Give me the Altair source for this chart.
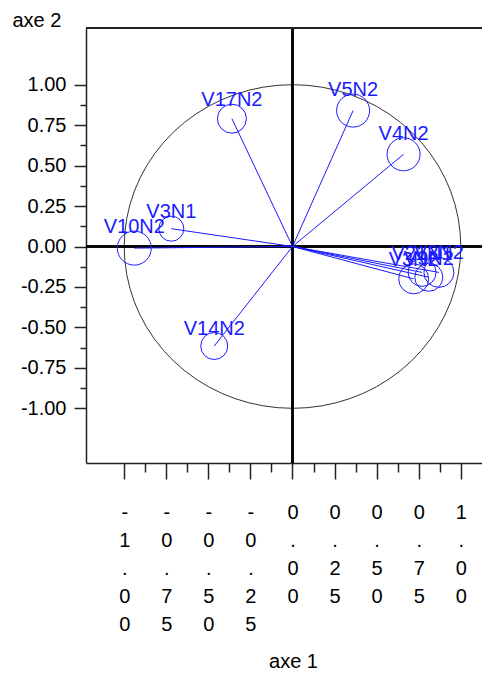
import altair as alt
import pandas as pd

# ---- data ----
names = ["V17N2", "V5N2", "V4N2", "V3N1", "V10N2", "V14N2", "V2N2", "V21N1", "V3N2", "V9N2"]
axe1 = [-0.36, 0.36, 0.66, -0.72, -0.94, -0.465, 0.87, 0.77, 0.72, 0.81]
axe2 = [0.79, 0.84, 0.57, 0.11, -0.01, -0.615, -0.16, -0.16, -0.20, -0.19]
diam = [29, 33, 33, 25, 34, 27, 30, 28, 30, 28]

tick_values = [-1.0, -0.875, -0.75, -0.625, -0.5, -0.375, -0.25, -0.125, 0.0,
               0.125, 0.25, 0.375, 0.5, 0.625, 0.75, 0.875, 1.0]

X_DOMAIN = [-1.227, 1.126]
Y_DOMAIN = [-1.338, 1.3504]

df = pd.DataFrame({"name": names, "x": axe1, "y": axe2, "d": diam})

FONT = "Liberation Sans"
BLUE = "#1a1aff"

is_minor = "abs(datum.value*4 - round(datum.value*4)) > 0.001"
num_txt = "(datum.value < 0 ? '-' : '') + format(abs(datum.value), '.2f')"

xscale = alt.Scale(domain=X_DOMAIN, nice=False, zero=False)
yscale = alt.Scale(domain=Y_DOMAIN, nice=False, zero=False)

x_axis = alt.Axis(
    values=tick_values,
    labelExpr=f"{is_minor} ? '' : split({num_txt}, '')",
    labelFont=FONT, labelFontSize=20, labelColor="#000",
    labelLineHeight=28, labelBaseline="top", labelPadding=23,
    labelOverlap=False, labelFlush=False,
    tickSize={"condition": {"test": is_minor, "value": 9}, "value": 16},
    tickColor="#222", tickWidth=1.5,
    domainColor="#222", domainWidth=1.5,
    grid=False,
    title="axe 1", titleFont=FONT, titleFontSize=20, titleFontWeight="normal",
    titleColor="#000", titleX=207, titleY=204, titleAlign="center",
    titleBaseline="alphabetic", titleAnchor="start",
)

y_axis = alt.Axis(
    values=tick_values,
    labelExpr=f"{is_minor} ? '' : {num_txt}",
    labelFont=FONT, labelFontSize=20, labelColor="#000",
    labelPadding=8, labelOverlap=False, labelFlush=False,
    tickSize={"condition": {"test": is_minor, "value": 6}, "value": 12},
    tickColor="#222", tickWidth=1.5,
    domainColor="#222", domainWidth=1.5,
    grid=False,
    title="axe 2", titleFont=FONT, titleFontSize=20, titleFontWeight="normal",
    titleColor="#000", titleAngle=0, titleX=-74, titleY=-2, titleAlign="left",
    titleBaseline="alphabetic", titleAnchor="start",
)


def X(field=None, datum=None):
    if datum is not None:
        return alt.X(datum=datum, scale=xscale, axis=x_axis)
    return alt.X(field, scale=xscale, axis=x_axis)


def Y(field=None, datum=None):
    if datum is not None:
        return alt.Y(datum=datum, scale=yscale, axis=y_axis)
    return alt.Y(field, scale=yscale, axis=y_axis)


# unit circle (correlation circle)
circle = (
    alt.Chart(alt.sequence(0, 361, 5, as_="a"))
    .transform_calculate(cx="cos(datum.a*PI/180)", cy="sin(datum.a*PI/180)")
    .mark_line(color="#333", strokeWidth=1)
    .encode(x=X("cx:Q"), y=Y("cy:Q"), order="a:Q")
)

base = alt.Chart(df)

vline = base.mark_rule(color="#000", strokeWidth=1.5).encode(x=X(datum=0))
hline = base.mark_rule(color="#000", strokeWidth=1.5).encode(y=Y(datum=0))
topline = base.mark_rule(color="#222", strokeWidth=1.5).encode(y=Y(datum=Y_DOMAIN[1]))

vectors = base.mark_rule(color=BLUE, strokeWidth=1).encode(
    x=X("x:Q"), y=Y("y:Q"), x2=alt.datum(0), y2=alt.datum(0),
)

points = (
    base.transform_calculate(s="datum.d*datum.d")
    .mark_point(shape="circle", filled=False, color=BLUE, strokeWidth=1, opacity=1)
    .encode(x=X("x:Q"), y=Y("y:Q"), size=alt.Size("s:Q", scale=None, legend=None))
)

labels = base.mark_text(
    font=FONT, fontSize=20, color=BLUE, align="center", baseline="alphabetic",
    dy={"expr": "2 - datum.d/2"},
).encode(x=X("x:Q"), y=Y("y:Q"), text="name:N")

chart = (
    alt.layer(circle, hline, vline, topline, vectors, points, labels)
    .properties(
        width=396,
        height=435,
        padding={"left": 78, "top": 20, "right": 0, "bottom": 209},
        autosize=alt.AutoSizeParams(type="none"),
    )
    .configure_view(stroke=None)
)

chart.save("out.html", embed_options={"renderer": "svg", "actions": False})
